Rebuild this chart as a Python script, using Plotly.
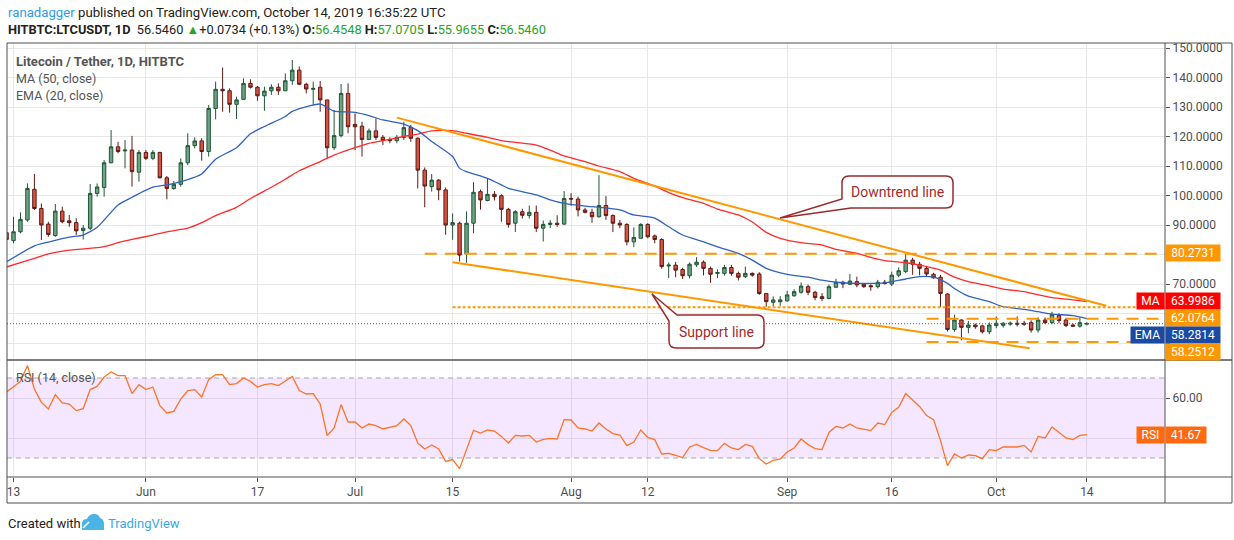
import pandas as pd
import plotly.graph_objects as go

# page geometry in px (TradingView screenshot layout)
W, H = 1234, 540
L, R, T, B = 7, 1165, 43, 477
MAIN_BOTTOM, RSI_TOP = 359, 361
FRAME_R, FRAME_B = 1232, 503


def fx(x):
    return (x - L) / (R - L)


def fy(y):
    return (B - y) / (B - T)


# ---- daily candles, 2019-05-12 .. 2019-10-14 ----
dates = pd.date_range("2019-05-12", "2019-10-14", freq="D")

opens = [
    87.4, 84.7, 87.7, 91.7, 102.1, 95.6, 90.3, 86.4, 94.7, 91.4, 90.8, 88.1, 88.9, 100.7, 102.7, 111.1, 116.5, 115.1, 115.4, 107.9,
    114.6, 112.6, 114.6, 106.0, 102.4, 103.8, 111.1, 116.9, 118.5, 114.9, 129.5, 136.0, 135.5, 130.9, 132.6, 138.0, 136.7, 133.8, 135.5, 136.7,
    135.5, 138.9, 142.5, 137.7, 136.0, 136.7, 132.4, 116.2, 120.3, 134.6,
    124.1, 123.5, 119.0, 121.9, 119.7, 119.0, 118.6, 119.7, 123.1, 119.4, 108.6, 103.0, 105.2, 101.9, 90.0, 90.6, 80.2, 90.6, 101.3, 98.3,
    100.4, 99.9, 95.3, 90.6, 94.5, 93.2, 94.3, 88.9, 90.2, 90.6, 90.3,
    99.0, 98.8, 95.1, 94.3, 92.8, 96.6, 93.2, 90.6, 90.2, 84.3, 85.5, 90.2, 86.3, 85.1, 76.1, 76.4, 74.9, 72.8, 76.5, 77.4,
    75.3, 73.6, 73.6, 75.6, 73.6, 72.5, 73.6, 73.4, 66.8, 63.8, 64.0,
    64.3, 66.0, 67.2, 69.1, 67.2, 65.7, 65.1, 68.9, 70.6, 69.9, 70.8, 69.9, 69.4, 69.1, 70.6, 70.0, 73.0, 74.2, 78.1, 76.7,
    75.3, 73.3, 72.3, 66.6, 54.6, 57.8, 55.3, 56.1, 55.8, 53.8,
    55.9, 56.0, 56.4, 56.7, 56.7, 56.9, 54.4, 57.8, 56.9, 59.3, 57.8, 56.1, 55.7, 56.4548,
]
highs = [
    88.3, 92.8, 94.3, 104.1, 107.3, 97.3, 91.1, 97.1, 96.2, 93.4, 92.3, 90.0, 103.9, 104.1, 112.0, 122.2, 118.2, 118.8, 120.2, 115.4,
    115.4, 115.4, 114.8, 106.6, 104.9, 112.6, 121.1, 119.7, 119.4, 130.7, 138.6, 143.4, 136.3, 133.5, 139.7, 139.4, 137.1, 136.9, 137.7, 138.0,
    141.4, 145.9, 143.7, 138.2, 138.6, 138.8, 132.4, 129.0, 137.8, 138.0,
    127.8, 125.0, 122.7, 126.2, 120.5, 119.7, 120.5, 125.0, 123.9, 119.7, 109.5, 107.3, 105.6, 102.7, 93.9, 91.1, 94.6, 104.5, 102.0, 105.6,
    101.5, 100.4, 95.8, 95.0, 95.5, 96.6, 96.6, 91.5, 91.7, 93.3, 101.5,
    100.8, 99.6, 95.8, 95.5, 106.9, 99.8, 93.6, 91.7, 90.6, 89.2, 90.6, 90.6, 86.8, 85.5, 77.3, 77.5, 75.5, 77.3, 79.1, 78.0,
    75.9, 75.0, 76.5, 76.5, 74.2, 75.9, 73.9, 74.0, 66.8, 65.8, 65.9,
    67.7, 68.2, 70.5, 69.8, 67.7, 66.9, 69.8, 71.8, 71.1, 73.4, 72.5, 70.3, 69.9, 71.4, 71.4, 74.2, 75.6, 80.8, 78.9, 77.5,
    75.9, 73.8, 73.1, 66.8, 59.6, 58.0, 57.5, 56.6, 56.2, 57.0,
    59.0, 57.1, 57.3, 59.0, 57.5, 57.7, 58.7, 58.7, 60.6, 60.1, 58.5, 56.6, 58.7, 57.0705,
]
lows = [
    84.6, 83.8, 87.2, 91.1, 95.1, 84.9, 86.0, 86.0, 90.6, 89.4, 86.6, 85.1, 88.3, 99.6, 99.6, 110.9, 114.3, 109.2, 103.0, 104.7,
    112.0, 112.0, 105.8, 98.7, 101.9, 103.0, 110.3, 116.0, 111.8, 113.2, 125.8, 128.4, 128.1, 125.9, 132.4, 136.3, 132.1, 128.7, 134.1, 134.1,
    135.5, 137.5, 137.4, 134.6, 130.7, 128.4, 112.6, 115.4, 119.7, 121.1,
    115.4, 113.2, 118.8, 118.8, 117.1, 117.7, 117.7, 118.8, 118.2, 102.4, 96.0, 101.3, 98.4, 86.7, 85.0, 77.6, 77.2, 87.2, 95.2, 98.0,
    98.3, 91.1, 89.1, 87.6, 92.2, 92.2, 87.6, 84.4, 89.0, 89.4, 90.0,
    96.5, 92.9, 93.9, 90.8, 92.5, 91.7, 87.6, 88.9, 83.1, 82.5, 85.5, 85.5, 83.8, 75.2, 72.0, 72.3, 71.7, 71.9, 75.8, 72.9,
    70.4, 72.0, 72.8, 72.8, 71.2, 72.0, 72.5, 66.3, 62.3, 62.5, 62.6,
    64.0, 65.7, 66.7, 66.2, 64.5, 64.2, 64.8, 68.6, 68.6, 69.7, 68.9, 68.7, 67.7, 68.5, 69.8, 69.3, 72.3, 73.7, 73.1, 72.9,
    72.5, 71.8, 62.2, 53.9, 53.8, 50.9, 53.3, 54.8, 53.2, 53.0,
    55.0, 55.2, 55.8, 55.6, 55.8, 53.5, 53.5, 56.4, 56.4, 56.7, 55.4, 55.4, 55.2, 55.9655,
]
closes = [
    85.1, 87.7, 91.9, 102.4, 95.6, 90.0, 86.8, 94.7, 91.1, 90.8, 88.0, 88.9, 100.7, 102.9, 111.1, 116.5, 114.9, 115.4, 108.1, 114.6,
    112.6, 114.6, 106.0, 102.4, 103.8, 111.1, 116.9, 118.5, 114.9, 129.5, 136.0, 135.5, 130.9, 132.4, 138.0, 136.7, 133.8, 135.4, 136.7, 135.5,
    138.9, 142.5, 137.7, 136.1, 136.3, 132.4, 116.2, 120.3, 134.6, 123.3,
    123.3, 119.0, 121.9, 119.7, 118.6, 118.6, 119.7, 123.0, 119.4, 108.6, 103.2, 105.2, 101.9, 90.0, 90.8, 79.8, 90.6, 101.1, 98.5, 100.4,
    99.6, 95.3, 90.2, 94.5, 93.3, 94.3, 88.9, 90.2, 90.6, 90.2, 99.0,
    98.8, 95.1, 94.3, 92.8, 96.6, 93.2, 90.6, 90.0, 84.3, 85.8, 90.2, 86.0, 85.1, 75.9, 76.4, 74.7, 72.8, 76.7, 77.4, 75.3,
    73.3, 73.9, 75.6, 73.6, 72.3, 73.6, 73.0, 66.8, 64.0, 64.6, 64.6,
    66.3, 67.4, 69.3, 67.2, 65.4, 65.1, 69.1, 70.6, 70.0, 71.0, 69.7, 69.1, 69.1, 70.6, 70.2, 73.0, 74.5, 78.1, 76.7, 75.3,
    73.4, 72.1, 66.8, 54.6, 57.8, 55.3, 56.1, 55.5, 53.8, 56.1,
    56.7, 56.7, 56.7, 56.4, 56.4, 54.4, 57.8, 56.9, 59.7, 57.6, 55.9, 55.7, 56.9, 56.546,
]

# ---- MA(50) and EMA(20) ----
ma_dates = [
    "2019-05-12", "2019-05-16", "2019-05-18", "2019-05-21", "2019-05-23", "2019-05-26", "2019-05-28", "2019-05-30",
    "2019-06-02", "2019-06-04", "2019-06-07", "2019-06-09", "2019-06-11", "2019-06-14", "2019-06-16", "2019-06-19",
    "2019-06-21", "2019-06-23", "2019-06-26", "2019-06-28", "2019-07-01", "2019-07-03", "2019-07-05", "2019-07-08",
    "2019-07-10", "2019-07-12", "2019-07-15", "2019-07-17", "2019-07-20", "2019-07-22", "2019-07-24", "2019-07-27",
    "2019-07-29", "2019-07-31", "2019-08-03", "2019-08-05", "2019-08-08", "2019-08-10", "2019-08-13", "2019-08-15",
    "2019-08-17", "2019-08-20", "2019-08-22", "2019-08-25", "2019-08-27", "2019-08-29", "2019-08-31", "2019-09-03",
    "2019-09-06", "2019-09-08", "2019-09-11", "2019-09-13", "2019-09-15", "2019-09-18", "2019-09-20", "2019-09-23",
    "2019-09-25", "2019-09-27", "2019-09-30", "2019-10-02", "2019-10-05", "2019-10-07", "2019-10-09", "2019-10-12",
    "2019-10-14",
]
ma_vals = [
    75.8, 78.7, 80.2, 81.5, 81.9, 82.7, 84.0, 85.1,
    86.6, 87.7, 88.9, 90.8, 93.2, 96.0, 99.0, 102.8,
    105.5, 108.4, 111.5, 113.7, 116.2, 117.7, 118.6, 120.0,
    120.8, 121.9, 122.0, 121.1, 119.7, 118.6, 118.0, 117.1,
    115.4, 113.4, 111.5, 110.0, 108.1, 105.8, 103.2, 101.0,
    99.3, 97.3, 95.4, 93.4, 91.0, 87.5, 85.5, 84.0,
    83.2, 81.7, 80.4, 79.0, 77.9, 77.2, 76.4, 74.7,
    72.3, 70.8, 69.4, 68.3, 67.4, 66.3, 65.4, 64.6,
    64.0,
]
ema_dates = [
    "2019-05-12", "2019-05-16", "2019-05-18", "2019-05-21", "2019-05-23", "2019-05-25", "2019-05-28", "2019-05-30",
    "2019-06-02", "2019-06-04", "2019-06-07", "2019-06-09", "2019-06-11", "2019-06-14", "2019-06-16", "2019-06-18",
    "2019-06-21", "2019-06-22", "2019-06-26", "2019-06-28", "2019-07-01", "2019-07-03", "2019-07-05", "2019-07-08",
    "2019-07-10", "2019-07-12", "2019-07-15", "2019-07-16", "2019-07-17", "2019-07-20", "2019-07-22", "2019-07-23",
    "2019-07-27", "2019-07-29", "2019-07-31", "2019-08-03", "2019-08-05", "2019-08-08", "2019-08-10", "2019-08-13",
    "2019-08-15", "2019-08-17", "2019-08-20", "2019-08-22", "2019-08-25", "2019-08-27", "2019-08-29", "2019-09-01",
    "2019-09-04", "2019-09-06", "2019-09-08", "2019-09-11", "2019-09-13", "2019-09-15", "2019-09-18", "2019-09-20",
    "2019-09-22", "2019-09-24", "2019-09-25", "2019-09-27", "2019-09-30", "2019-10-02", "2019-10-05", "2019-10-07",
    "2019-10-09", "2019-10-12", "2019-10-14",
]
ema_vals = [
    77.5, 82.9, 84.2, 85.9, 86.6, 89.2, 96.8, 99.4,
    102.8, 103.6, 105.4, 107.3, 112.3, 116.2, 120.9, 123.4,
    126.8, 128.5, 131.0, 128.6, 128.2, 127.1, 125.6, 124.2,
    122.0, 118.3, 113.2, 109.2, 108.1, 105.8, 103.6, 102.4,
    100.2, 98.5, 97.3, 96.4, 96.0, 95.1, 93.4, 92.3,
    89.4, 86.6, 84.3, 82.6, 80.4, 78.1, 75.3, 73.3,
    72.3, 71.3, 70.6, 70.2, 70.2, 70.4, 71.7, 72.5,
    72.3, 70.2, 68.5, 65.9, 64.0, 62.3, 61.4, 60.6,
    59.8, 59.3, 58.3,
]

# ---- RSI(14) ----
rsi = [
    63.0, 65.8, 68.3, 76.2, 64.5, 57.8, 54.5, 61.7, 57.5, 57.0, 53.7, 54.7, 64.2, 65.8, 70.5, 73.0, 71.2, 71.2, 62.2, 66.7,
    64.2, 65.5, 56.2, 52.5, 53.3, 59.5, 63.7, 64.2, 60.5, 69.2, 71.7, 71.7, 66.7, 67.2, 70.0, 68.3, 65.5, 66.7, 67.2, 66.2,
    68.3, 70.8, 63.7, 62.0, 62.2, 57.0, 41.2, 45.0, 56.7, 48.0,
    48.0, 45.0, 47.0, 46.2, 44.5, 45.3, 46.2, 49.5, 46.2, 37.5, 34.5, 36.5, 34.5, 28.3, 29.2, 24.7, 34.2, 43.8, 42.5, 44.0,
    43.5, 40.8, 37.5, 41.3, 41.0, 41.3, 38.0, 39.3, 39.8, 39.5, 49.2,
    49.0, 45.0, 44.5, 43.5, 47.5, 44.5, 42.2, 41.5, 36.2, 38.0, 44.0, 40.3, 39.2, 32.0, 32.3, 31.3, 30.2, 35.5, 36.8, 35.2,
    33.8, 33.7, 37.3, 35.0, 34.2, 36.8, 35.8, 29.7, 27.0, 28.8, 29.5,
    33.0, 35.0, 39.5, 36.7, 34.7, 34.2, 42.8, 45.8, 45.0, 47.0, 45.0, 44.2, 43.7, 47.5, 46.7, 52.8, 55.3, 62.2, 59.2, 55.8,
    51.2, 49.2, 38.7, 26.2, 32.0, 30.0, 31.5, 31.2, 29.7, 34.2,
    33.7, 35.5, 35.5, 35.5, 36.3, 33.0, 40.8, 40.0, 45.5, 42.8, 40.0, 39.2, 41.3, 41.67,
]

# ---- drawings ----
downtrend = (["2019-07-07", "2019-10-16 19:00"], [126.4, 62.6])
support = (["2019-07-15", "2019-10-05 19:00"], [77.35, 48.2])
hlevels = [("2019-07-11", 80.2731, "12px,8px"), ("2019-07-15", 62.0764, "3px,2px"),
           ("2019-09-21", 58.2512, "12px,8px"), ("2019-09-21", 50.3, "12px,8px")]

x_ticks = ["2019-05-13", "2019-06-01", "2019-06-17", "2019-07-01", "2019-07-15", "2019-08-01",
           "2019-08-12", "2019-09-01", "2019-09-16", "2019-10-01", "2019-10-14"]
x_ticktext = ["13", "Jun", "17", "Jul", "15", "Aug", "12", "Sep", "16", "Oct", "14"]
price_ticks = [50, 60, 70, 80, 90, 100, 110, 120, 130, 140, 150]

ma_last, ema_last, rsi_last = 63.9986, 58.2814, 41.67

# axis ranges from the screenshot scale: 6.97 px/day, 2.95 px per price unit
day0 = pd.Timestamp("2019-05-13")
x_start = day0 + pd.Timedelta(days=(L - 13.5) / 6.97)
x_end = day0 + pd.Timedelta(days=(R - 13.5) / 6.97)
y_top = 130 + (107 - T) / 2.95
y_bot = 130 - (MAIN_BOTTOM - 107) / 2.95
r_top = 70 + (378 - RSI_TOP) / 2.0
r_bot = 30 - (B - 458) / 2.0

FONT = "Roboto"
ORANGE = "#ff9800"
GRID = "#e8e8e8"

fig = go.Figure()
fig.add_trace(go.Candlestick(
    x=dates, open=opens, high=highs, low=lows, close=closes,
    increasing=dict(fillcolor="#6ba583", line=dict(color="#225437", width=1)),
    decreasing=dict(fillcolor="#d75442", line=dict(color="#5b1a13", width=1)),
    xaxis="x", yaxis="y", showlegend=False))
fig.add_trace(go.Scatter(x=ma_dates, y=ma_vals, mode="lines", xaxis="x", yaxis="y",
                         line=dict(color="#ff2a2a", width=1.3, shape="spline", smoothing=0.6),
                         showlegend=False, hoverinfo="skip"))
fig.add_trace(go.Scatter(x=ema_dates, y=ema_vals, mode="lines", xaxis="x", yaxis="y",
                         line=dict(color="#2f62c0", width=1.3, shape="spline", smoothing=0.6),
                         showlegend=False, hoverinfo="skip"))
for xs, ys in (downtrend, support):
    fig.add_trace(go.Scatter(x=xs, y=ys, mode="lines", xaxis="x", yaxis="y",
                             line=dict(color=ORANGE, width=2), showlegend=False, hoverinfo="skip"))
fig.add_trace(go.Scatter(x=dates, y=rsi, mode="lines", xaxis="x", yaxis="y2",
                         line=dict(color="#ff7326", width=1.3), showlegend=False))

shapes = []
for start, lvl, dash in hlevels:
    shapes.append(dict(type="line", xref="x", yref="y", x0=start, x1=x_end, y0=lvl, y1=lvl,
                       line=dict(color=ORANGE, width=2, dash=dash), layer="above"))
# last price line
shapes.append(dict(type="line", xref="x", yref="y", x0=x_start, x1=x_end, y0=closes[-1], y1=closes[-1],
                   line=dict(color="#3d7a52", width=1, dash="1px,2px")))
# RSI band
shapes.append(dict(type="rect", xref="x", yref="y2", x0=x_start, x1=x_end, y0=30, y1=70,
                   fillcolor="rgba(153,21,255,0.1)", line=dict(width=0), layer="between"))
for lvl in (30, 70):
    shapes.append(dict(type="line", xref="x", yref="y2", x0=x_start, x1=x_end, y0=lvl, y1=lvl,
                       line=dict(color="#a8a8a8", width=1, dash="5px,4px"), layer="between"))


def path(points_cmds, close=True):
    out = []
    for cmd, pts in points_cmds:
        out.append(cmd + " ".join(f"{fx(a):.5f},{fy(b):.5f}" for a, b in pts))
    return " ".join(out) + (" Z" if close else "")


def box_callout(x0, y0, x1, y1, tip, pa, pb, r=7, tail_top=False):
    if not tail_top:
        cmds = [("M", [tip]), ("L", [pa]), ("L", [(x0, y0 + r)]), ("Q", [(x0, y0), (x0 + r, y0)]),
                ("L", [(x1 - r, y0)]), ("Q", [(x1, y0), (x1, y0 + r)]), ("L", [(x1, y1 - r)]),
                ("Q", [(x1, y1), (x1 - r, y1)]), ("L", [pb])]
    else:
        cmds = [("M", [tip]), ("L", [pa]), ("L", [(x1 - r, y0)]), ("Q", [(x1, y0), (x1, y0 + r)]),
                ("L", [(x1, y1 - r)]), ("Q", [(x1, y1), (x1 - r, y1)]), ("L", [(x0 + r, y1)]),
                ("Q", [(x0, y1), (x0, y1 - r)]), ("L", [pb])]
    return dict(type="path", xref="paper", yref="paper", path=path(cmds),
                fillcolor="white", line=dict(color="#9b2b2b", width=1.5), layer="above")


shapes.append(box_callout(842, 176, 953, 208, (780, 218), (842, 199), (851, 208)))
shapes.append(box_callout(669, 315, 764, 348, (652, 294), (677, 315), (669, 321), tail_top=True))

# frame
FR = "#505050"
shapes += [
    dict(type="rect", xref="paper", yref="paper", x0=fx(L), x1=fx(FRAME_R), y0=fy(FRAME_B), y1=fy(T),
         line=dict(color=FR, width=1)),
    dict(type="line", xref="paper", yref="paper", x0=fx(R), x1=fx(R), y0=fy(FRAME_B), y1=fy(T),
         line=dict(color=FR, width=1)),
    dict(type="line", xref="paper", yref="paper", x0=fx(L), x1=fx(FRAME_R), y0=fy(360), y1=fy(360),
         line=dict(color=FR, width=1.5)),
    dict(type="line", xref="paper", yref="paper", x0=fx(L), x1=fx(FRAME_R), y0=fy(B), y1=fy(B),
         line=dict(color=FR, width=1)),
]
# TradingView logo
shapes.append(dict(type="path", xref="paper", yref="paper", fillcolor="#4ab4e6", line=dict(width=0),
                   path=path([("M", [(82, 530)]), ("L", [(82, 524)]), ("Q", [(82, 519), (87, 519)]),
                              ("Q", [(89, 514), (94, 514)]), ("Q", [(99, 514), (100, 518)]),
                              ("Q", [(104, 519), (104, 524)]), ("L", [(104, 530)])])))
shapes.append(dict(type="path", xref="paper", yref="paper", line=dict(color="white", width=1.6),
                   path=path([("M", [(83, 528)]), ("L", [(89, 522), (93, 526), (98, 520), (103, 525)])],
                             close=False)))

ann = []


def text(x, y, s, size=13, color="#333", anchor="left", **kw):
    ann.append(dict(x=fx(x), y=fy(y), xref="paper", yref="paper", text=s, showarrow=False,
                    xanchor=anchor, yanchor="middle", font=dict(family=FONT, size=size, color=color), **kw))


def tag(xc, y, s, bg, w=54):
    ann.append(dict(x=fx(xc), y=fy(y), xref="paper", yref="paper", text=s, showarrow=False,
                    xanchor="center", yanchor="middle", width=w, height=16, bgcolor=bg, borderpad=0,
                    font=dict(family=FONT, size=12, color="white")))


GREEN = "#26a526"
text(6, 13, "<span style='color:#2e9be6'>ranadagger</span> published on TradingView.com, October 14, 2019 16:35:22 UTC",
     size=13.2, color="#222")
text(6, 30, f"<b>HITBTC:LTCUSDT, 1D</b>  {closes[-1]:.4f} <span style='color:{GREEN}'>▲</span>+0.0734 (+0.13%) "
            f"<b>O:</b><span style='color:{GREEN}'>{opens[-1]:.4f}</span> "
            f"<b>H:</b><span style='color:{GREEN}'>{highs[-1]:.4f}</span> "
            f"<b>L:</b><span style='color:{GREEN}'>{lows[-1]:.4f}</span> "
            f"<b>C:</b><span style='color:{GREEN}'>{closes[-1]:.4f}</span>", size=12.8, color="#222")
text(14, 61, "<b>Litecoin / Tether, 1D, HITBTC</b>", size=13, color="#555")
text(14, 78, "MA (50, close)", size=12.5, color="#555")
text(14, 95, "EMA (20, close)", size=12.5, color="#555")
text(14, 377, "RSI (14, close)", size=12.5, color="#555")
text(897.5, 192, "Downtrend line", size=14, color="#a52a2a", anchor="center")
text(716.5, 331.5, "Support line", size=14, color="#a52a2a", anchor="center")
text(6, 523, "Created with", size=13, color="#222")
text(106, 523, "TradingView", size=13, color="#3aa8e0")

tag(1193, 253, f"{hlevels[0][1]:.4f}", ORANGE)
tag(1150.5, 301, "MA", "#ff0000", w=27)
tag(1193, 301, f"{ma_last:.4f}", "#ff0000")
tag(1193, 318, f"{hlevels[1][1]:.4f}", ORANGE)
tag(1147.5, 335, "EMA", "#1a4aa2", w=33)
tag(1193, 335, f"{ema_last:.4f}", "#1a4aa2")
tag(1193, 352, f"{hlevels[2][1]:.4f}", ORANGE)
tag(1150.5, 435, "RSI", "#ff6a10", w=27)
tag(1186, 435, f"{rsi_last:.2f}", "#ff6a10", w=40)

tickfont = dict(family=FONT, size=12, color="#4d4d4d")
fig.update_layout(
    width=W, height=H, autosize=False,
    margin=dict(l=L, r=W - R, t=T, b=H - B),
    paper_bgcolor="white", plot_bgcolor="white",
    showlegend=False, shapes=shapes, annotations=ann,
    xaxis=dict(type="date", range=[x_start, x_end], anchor="y2", tickvals=x_ticks, ticktext=x_ticktext,
               showgrid=True, gridcolor=GRID, ticks="outside", ticklen=4, tickcolor="#555",
               tickfont=tickfont, showline=False, zeroline=False, rangeslider=dict(visible=False)),
    yaxis=dict(domain=[fy(MAIN_BOTTOM), 1], range=[y_bot, y_top], side="right", anchor="x",
               tickvals=price_ticks,
               ticktext=["" if v in (50, 60, 80) else f"{v:.4f}" for v in price_ticks],
               showgrid=True, gridcolor=GRID, ticks="outside", ticklen=4, tickcolor="#555",
               tickfont=tickfont, zeroline=False, showline=False),
    yaxis2=dict(domain=[0, fy(RSI_TOP)], range=[r_bot, r_top], side="right", anchor="x",
                tickvals=[40, 60], ticktext=["", "60.00"],
                showgrid=True, gridcolor=GRID, ticks="outside", ticklen=4, tickcolor="#555",
                tickfont=tickfont, zeroline=False, showline=False),
)

# the page's default 8px body margin would push the figure off the window
fig.write_html("out.html", config={"displayModeBar": False},
               post_script="document.body.style.margin='0px';")
